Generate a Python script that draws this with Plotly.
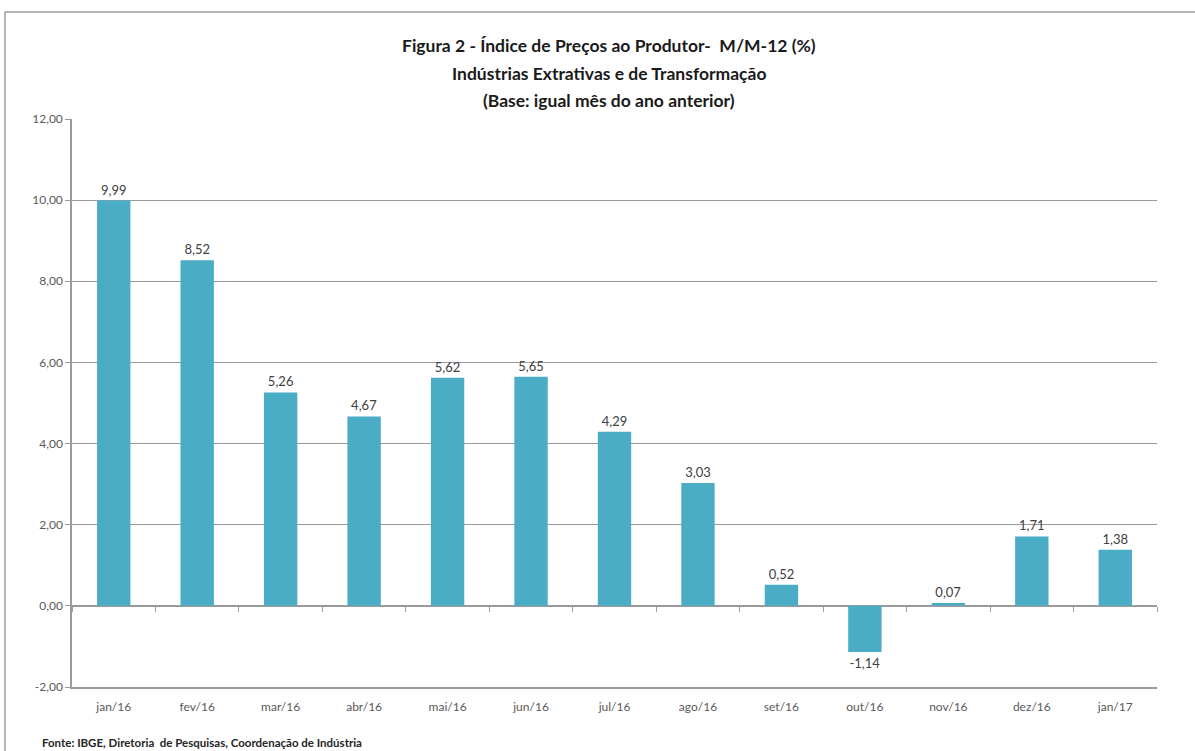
import plotly.graph_objects as go

categories = ["jan/16", "fev/16", "mar/16", "abr/16", "mai/16", "jun/16", "jul/16",
              "ago/16", "set/16", "out/16", "nov/16", "dez/16", "jan/17"]
values = [9.99, 8.52, 5.26, 4.67, 5.62, 5.65, 4.29, 3.03, 0.52, -1.14, 0.07, 1.71, 1.38]
y_ticks = [-2, 0, 2, 4, 6, 8, 10, 12]
y_tick_labels = ["-2,00", "0,00", "2,00", "4,00", "6,00", "8,00", "10,00", "12,00"]

title_lines = ["Figura 2 - Índice de Preços ao Produtor-  M/M-12 (%)",
               "Indústrias Extrativas e de Transformação",
               "(Base: igual mês do ano anterior)"]
source = "Fonte: IBGE, Diretoria  de Pesquisas, Coordenação de Indústria"

FONT = "Lato, 'Open Sans', sans-serif"
BAR = "#4BACC6"
GRID = "#9a9a9a"

value_labels = [f"{v:.2f}".replace(".", ",") for v in values]

fig = go.Figure()
fig.add_trace(go.Bar(
    x=categories, y=values, marker=dict(color=BAR, line=dict(width=0)),
    text=value_labels, texttemplate="%{text}", textposition="outside", cliponaxis=False,
    textfont=dict(family=FONT, size=13, color="#404040"),
    hoverinfo="skip", showlegend=False,
))
# invisible trace to carry tick marks on the zero line
fig.add_trace(go.Bar(
    x=categories, y=values, xaxis="x2", opacity=0, hoverinfo="skip",
    showlegend=False, marker=dict(color="rgba(0,0,0,0)"),
))

W, H = 1195, 751
ml, mr, mt, mb = 72, 38, 119, 64
ymin, ymax = -2, 12

fig.update_layout(
    width=W, height=H,
    margin=dict(l=ml, r=mr, t=mt, b=mb),
    paper_bgcolor="white", plot_bgcolor="white",
    bargap=0.6,
    showlegend=False,
    font=dict(family=FONT, color="#595959"),
    xaxis=dict(
        type="category", showgrid=False, zeroline=False,
        showline=True, linecolor=GRID, linewidth=1.5,
        ticks="", tickfont=dict(family=FONT, size=12, color="#595959"),
        ticklabelstandoff=8,
    ),
    xaxis2=dict(
        type="category", overlaying="x", anchor="free",
        position=(0 - ymin) / (ymax - ymin), side="bottom",
        showgrid=False, zeroline=False, showline=False,
        ticks="outside", tickson="boundaries", ticklen=5, tickcolor=GRID,
        showticklabels=False,
    ),
    yaxis=dict(
        range=[ymin, ymax], tickmode="array", tickvals=y_ticks, ticktext=y_tick_labels,
        showgrid=True, gridcolor=GRID, gridwidth=1.2,
        zeroline=True, zerolinecolor=GRID, zerolinewidth=1.5,
        showline=True, linecolor=GRID, linewidth=1.5,
        ticks="outside", ticklen=5, tickcolor=GRID,
        tickfont=dict(family=FONT, size=12, color="#595959"),
    ),
)

# outer frame
fig.add_shape(type="rect", xref="paper", yref="paper",
              x0=(5 - ml) / (W - ml - mr), x1=(W + 20 - ml) / (W - ml - mr),
              y0=-(H + 20 - (H - mb)) / (H - mt - mb), y1=1 + (mt - 12) / (H - mt - mb),
              line=dict(color="#a0a0a0", width=1.5), layer="below")

title_y = [45, 73, 100]
for txt, yp in zip(title_lines, title_y):
    fig.add_annotation(text=f"<b>{txt}</b>", xref="paper", yref="paper",
                       x=(609 - ml) / (W - ml - mr),
                       y=1 + (mt - yp) / (H - mt - mb),
                       showarrow=False, xanchor="center", yanchor="middle",
                       font=dict(family=FONT, size=17.5, color="#1a1a1a"))

fig.add_annotation(text=f"<b>{source}</b>", xref="paper", yref="paper",
                   x=(40 - ml) / (W - ml - mr), y=-(742 - (H - mb)) / (H - mt - mb),
                   showarrow=False, xanchor="left", yanchor="middle",
                   font=dict(family=FONT, size=11.5, color="#262626"))

fig.write_html("out.html", config={"displayModeBar": False},
               post_script="document.body.style.margin='0';document.body.style.overflow='hidden';")
